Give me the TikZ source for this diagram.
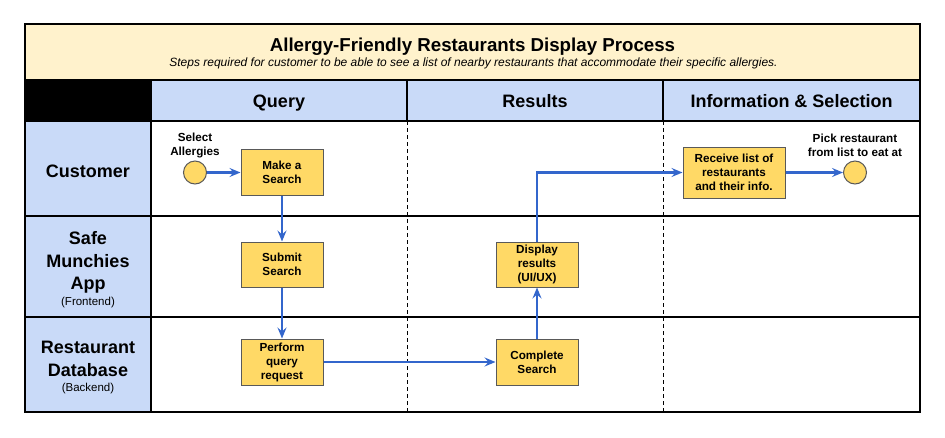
\documentclass[tikz,border=0pt]{standalone}
\usepackage{fontspec}
\setmainfont{Liberation Sans}
\usetikzlibrary{arrows.meta}
\definecolor{titlebg}{HTML}{FFF2CC}
\definecolor{lanebg}{HTML}{C9DAF8}
\definecolor{boxfill}{HTML}{FFD966}
\definecolor{boxdraw}{HTML}{595959}
\definecolor{flowblue}{HTML}{3366CC}
\tikzset{
  gridline/.style={draw=black, line width=1.2pt},
  dashline/.style={draw=black, line width=0.9pt, dash pattern=on 4pt off 3pt},
  stepbox/.style={draw=boxdraw, fill=boxfill, line width=1pt, minimum width=82pt,
    minimum height=46pt, inner sep=0pt, align=center,
    font=\bfseries\fontsize{11.7}{14}\selectfont},
  endpoint/.style={circle, draw=boxdraw, fill=boxfill, line width=1pt,
    minimum size=23pt, inner sep=0pt},
  flow/.style={draw=flowblue, line width=2.2pt,
    -{Stealth[length=11pt,width=9pt,inset=4pt]}},
  lanelabel/.style={align=center, font=\bfseries\fontsize{18}{22.5}\selectfont, inner sep=0pt},
  sublabel/.style={anchor=base, font=\fontsize{11.5}{14}\selectfont, inner sep=0pt},
  headlabel/.style={anchor=base, font=\bfseries\fontsize{18}{22}\selectfont, inner sep=0pt},
  smalllabel/.style={align=center, font=\bfseries\fontsize{11.7}{14}\selectfont, inner sep=0pt},
}
\begin{document}
\begin{tikzpicture}[x=1pt,y=-1pt]
\useasboundingbox (0,0) rectangle (945,437);
\fill[white] (0,0) rectangle (945,437);
% backgrounds
\fill[titlebg] (25,24) rectangle (920,80);
\fill[lanebg] (151,80) rectangle (920,121);
\fill[black] (25,80) rectangle (151,121);
\fill[lanebg] (25,121) rectangle (151,412);
% grid
\draw[gridline] (25,80) -- (920,80);
\draw[gridline] (25,121) -- (920,121);
\draw[gridline] (25,216) -- (920,216);
\draw[gridline] (25,317) -- (920,317);
\draw[gridline] (151,80) -- (151,412);
\draw[gridline] (407,80) -- (407,121);
\draw[gridline] (663,80) -- (663,121);
\draw[dashline] (407,121) -- (407,412);
\draw[dashline] (663,121) -- (663,412);
\draw[gridline] (25,24) rectangle (920,412);
% title
\node[anchor=base, inner sep=0pt, font=\bfseries\fontsize{18.7}{22}\selectfont] (title) at (472.5,51.5) {Allergy-Friendly Restaurants Display Process};
\node[anchor=base, inner sep=0pt, font=\itshape\fontsize{12}{14}\selectfont] (subtitle) at (473.5,66) {Steps required for customer to be able to see a list of nearby restaurants that accommodate their specific allergies.};
% headers
\node[headlabel] (hq) at (279,107.5) {Query};
\node[headlabel] (hr) at (535,107.5) {Results};
\node[headlabel] (hi) at (791.5,107.5) {Information \& Selection};
% lane labels
\node[lanelabel, anchor=base] (lc) at (88,177) {Customer};
\node[lanelabel] (la) at (88,262.5) {Safe\\Munchies\\App};
\node[sublabel] (laf) at (88,305) {(Frontend)};
\node[lanelabel] (ld) at (88,359) {Restaurant\\Database};
\node[sublabel] (ldb) at (88,391.5) {(Backend)};
% flow nodes
\node[endpoint] (start) at (195,172.5) {};
\node[smalllabel] (startlbl) at (195,145) {Select\\Allergies};
\node[stepbox] (make) at (282,172.5) {Make a\\Search};
\node[stepbox, minimum height=45pt] (submit) at (282,264.5) {Submit\\Search};
\node[stepbox] (perform) at (282,362) {Perform\\query\\request};
\node[stepbox] (complete) at (537,362) {Complete\\Search};
\node[stepbox, minimum height=45pt] (display) at (537,264.5) {Display\\results\\(UI/UX)};
\node[stepbox, minimum width=102pt, minimum height=51pt] (receive) at (734,172.5) {Receive list of\\restaurants\\and their info.};
\node[endpoint] (finish) at (855,172.5) {};
\node[smalllabel] (finishlbl) at (855,145) {Pick restaurant\\from list to eat at};
% connectors
\draw[flow] (start) -- (make);
\draw[flow] (make) -- (submit);
\draw[flow] (submit) -- (perform);
\draw[flow] (perform) -- (complete);
\draw[flow] (complete) -- (display);
\draw[flow] (display.north) |- (receive.west);
\draw[flow] (receive) -- (finish);
\end{tikzpicture}
\end{document}
